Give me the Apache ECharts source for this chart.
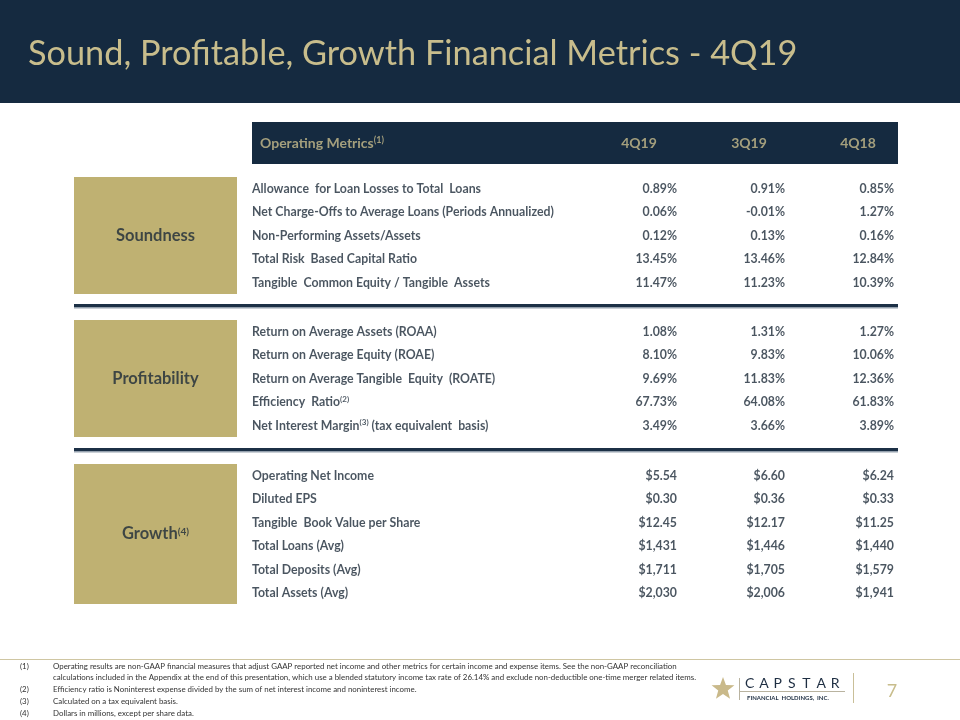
<!DOCTYPE html>
<html><head><meta charset="utf-8">
<script src="https://cdn.jsdelivr.net/npm/echarts@6/dist/echarts.min.js"></script>
<style>html,body{margin:0;padding:0;background:#fff}#c{width:960px;height:720px}</style>
</head><body><div id="c"></div>
<script>
// ---------- data ----------
const titleText = 'Sound, Profitable, Growth Financial Metrics - 4Q19';
const tableHeader = 'Operating Metrics{s|(1)}';
const periods = ['4Q19', '3Q19', '4Q18'];
const sections = ['Soundness', 'Profitability', 'Growth{s|(4)}'];

const soundnessLabels = [
  'Allowance  for Loan Losses to Total  Loans',
  'Net Charge-Offs to Average Loans (Periods Annualized)',
  'Non-Performing Assets/Assets',
  'Total Risk  Based Capital Ratio',
  'Tangible  Common Equity / Tangible  Assets'
];
const soundness4Q19 = [0.89, 0.06, 0.12, 13.45, 11.47];
const soundness3Q19 = [0.91, -0.01, 0.13, 13.46, 11.23];
const soundness4Q18 = [0.85, 1.27, 0.16, 12.84, 10.39];
const soundnessFormats = ['pct', 'pct', 'pct', 'pct', 'pct'];

const profitabilityLabels = [
  'Return on Average Assets (ROAA)',
  'Return on Average Equity (ROAE)',
  'Return on Average Tangible  Equity  (ROATE)',
  'Efficiency  Ratio{s|(2)}',
  'Net Interest Margin{s|(3)} (tax equivalent  basis)'
];
const profitability4Q19 = [1.08, 8.10, 9.69, 67.73, 3.49];
const profitability3Q19 = [1.31, 9.83, 11.83, 64.08, 3.66];
const profitability4Q18 = [1.27, 10.06, 12.36, 61.83, 3.89];
const profitabilityFormats = ['pct', 'pct', 'pct', 'pct', 'pct'];

const growthLabels = [
  'Operating Net Income',
  'Diluted EPS',
  'Tangible  Book Value per Share',
  'Total Loans (Avg)',
  'Total Deposits (Avg)',
  'Total Assets (Avg)'
];
const growth4Q19 = [5.54, 0.30, 12.45, 1431, 1711, 2030];
const growth3Q19 = [6.60, 0.36, 12.17, 1446, 1705, 2006];
const growth4Q18 = [6.24, 0.33, 11.25, 1440, 1579, 1941];
const growthFormats = ['usd2', 'usd2', 'usd2', 'usd0', 'usd0', 'usd0'];

const footnoteMarks = ['(1)', '', '(2)', '(3)', '(4)'];
const footnoteLines = [
  'Operating results are non-GAAP financial measures that adjust GAAP reported net income and other metrics for certain income and expense items. See the non-GAAP reconciliation',
  'calculations included in the Appendix at the end of this presentation, which use a blended statutory income tax rate of 26.14% and exclude non-deductible one-time merger related items.',
  'Efficiency ratio is Noninterest expense divided by the sum of net interest income and noninterest income.',
  'Calculated on a tax equivalent basis.',
  'Dollars in millions, except per share data.'
];
const pageNumber = '7';

// ---------- layout / style ----------
const FONT = 'Lato';
const NAVY = '#152a40', TAN = '#bfb172', TITLE_TAN = '#c8bd8c', TEXT = '#1d2a38';
const LAY = {
  labelX: 252, colRight: [677, 785, 894], headCenters: [639, 749, 858], headY: 143, metricsX: 260,
  firstRowY: [189, 332, 476], rowStep: 23.5,
  boxX: 74, boxW: 163, boxY: [[177, 294], [320, 437], [464, 604]],
  sepY: [304, 448], tableLeft: 74, tableRight: 898,
  headBar: [252, 122, 646, 42]
};

function fmt(v, kind) {
  if (kind === 'pct') return v.toFixed(2) + '%';
  if (kind === 'usd2') return '$' + v.toFixed(2);
  return '$' + v.toLocaleString('en-US');
}

const sectionLabels = [soundnessLabels, profitabilityLabels, growthLabels];
const sectionValues = [
  [soundness4Q19, soundness3Q19, soundness4Q18],
  [profitability4Q19, profitability3Q19, profitability4Q18],
  [growth4Q19, growth3Q19, growth4Q18]
];
const sectionFormats = [soundnessFormats, profitabilityFormats, growthFormats];

const labelData = [], valueData = [], sectionData = [], headData = [];
sectionLabels.forEach((labels, s) => {
  labels.forEach((lab, i) => {
    const y = LAY.firstRowY[s] + i * LAY.rowStep;
    labelData.push({ value: [LAY.labelX, y], name: lab });
    sectionValues[s].forEach((col, j) => {
      valueData.push({ value: [LAY.colRight[j], y], name: fmt(col[i], sectionFormats[s][i]) });
    });
  });
  const b = LAY.boxY[s];
  sectionData.push({ value: [LAY.boxX + LAY.boxW / 2, (b[0] + b[1]) / 2], name: sections[s] });
});
headData.push({ value: [LAY.metricsX, LAY.headY], name: tableHeader, label: { align: 'left' } });
periods.forEach((p, j) => headData.push({ value: [LAY.headCenters[j], LAY.headY], name: p, label: { align: 'center' } }));

const richSup = (size, color) => ({ s: { fontFamily: FONT, fontWeight: 'bold', fontSize: size, lineHeight: size, color: color, verticalAlign: 'top' } });

function textSeries(data, opts) {
  return {
    type: 'scatter', symbolSize: 0, silent: true, data: data, z: 5,
    label: Object.assign({
      show: true, position: 'inside', verticalAlign: 'middle',
      fontFamily: FONT, fontWeight: 'bold', fontSize: 12.3, color: TEXT, lineHeight: 15,
      formatter: p => p.name
    }, opts)
  };
}

// graphic decorations
const graphics = [
  { type: 'rect', shape: { x: 0, y: 0, width: 960, height: 103 }, style: { fill: NAVY } },
  { type: 'text', x: 28, y: 54, style: { text: titleText, font: '34.3px Lato', fill: TITLE_TAN, textVerticalAlign: 'middle' } },
  { type: 'rect', shape: { x: LAY.headBar[0], y: LAY.headBar[1], width: LAY.headBar[2], height: LAY.headBar[3] }, style: { fill: NAVY } }
];
LAY.boxY.forEach(b => graphics.push({ type: 'rect', shape: { x: LAY.boxX, y: b[0], width: LAY.boxW, height: b[1] - b[0] }, style: { fill: TAN } }));
LAY.sepY.forEach(y => {
  graphics.push({ type: 'rect', shape: { x: LAY.tableLeft, y: y, width: LAY.tableRight - LAY.tableLeft, height: 3 }, style: { fill: '#1c3046' } });
  graphics.push({ type: 'rect', shape: { x: LAY.tableLeft, y: y + 3, width: LAY.tableRight - LAY.tableLeft, height: 1.5 }, style: { fill: '#95a1ae' } });
});
// footer rule
graphics.push({ type: 'line', shape: { x1: 0, y1: 659.5, x2: 960, y2: 659.5 }, style: { stroke: '#cfc6a2', lineWidth: 1 } });
// footnotes
const fnY0 = 666, fnStep = 11.9;
footnoteLines.forEach((t, i) => {
  const y = fnY0 + i * fnStep;
  if (footnoteMarks[i]) graphics.push({ type: 'text', x: 20, y: y, style: { text: footnoteMarks[i], font: '7.9px Lato', fill: '#333', textVerticalAlign: 'middle' } });
  graphics.push({ type: 'text', x: 53, y: y, style: { text: t, font: '7.9px Lato', fill: '#333', textVerticalAlign: 'middle' } });
});
// logo
(function () {
  const cx = 723, cy = 689, R = 12, r = 5;
  const pts = [];
  for (let k = 0; k < 10; k++) {
    const a = -Math.PI / 2 + k * Math.PI / 5;
    const rr = k % 2 === 0 ? R : r;
    pts.push([cx + rr * Math.cos(a), cy + rr * Math.sin(a)]);
  }
  graphics.push({ type: 'polygon', shape: { points: pts }, style: { fill: '#c9b98a' } });
  graphics.push({ type: 'line', shape: { x1: 739.5, y1: 678, x2: 739.5, y2: 700 }, style: { stroke: '#b9b3a0', lineWidth: 1 } });
  graphics.push({ type: 'line', shape: { x1: 740, y1: 691.5, x2: 845, y2: 691.5 }, style: { stroke: '#b9b3a0', lineWidth: 1 } });
  const letters = 'CAPSTAR'.split('');
  letters.forEach((ch, k) => graphics.push({ type: 'text', x: 745 + k * 14.3, y: 683, style: { text: ch, font: '14px Lato', fill: '#1e2e42', textVerticalAlign: 'middle' } }));
  graphics.push({ type: 'text', x: 747, y: 698, style: { text: 'FINANCIAL  HOLDINGS,  INC.', font: 'bold 6px Lato', fill: '#1e2e42', textVerticalAlign: 'middle' } });
  graphics.push({ type: 'line', shape: { x1: 853.5, y1: 673, x2: 853.5, y2: 703 }, style: { stroke: '#c9bf98', lineWidth: 1 } });
  graphics.push({ type: 'text', x: 892, y: 691, style: { text: pageNumber, font: '18px Lato', fill: '#c8bd8c', textAlign: 'center', textVerticalAlign: 'middle' } });
})();

const option = {
  animation: false,
  backgroundColor: '#ffffff',
  grid: { left: 0, right: 0, top: 0, bottom: 0 },
  xAxis: { type: 'value', min: 0, max: 960, show: false },
  yAxis: { type: 'value', min: 0, max: 720, inverse: true, show: false },
  graphic: graphics,
  series: [
    textSeries(labelData, { align: 'left', rich: richSup(8, TEXT) }),
    textSeries(valueData, { align: 'right' }),
    textSeries(sectionData, { align: 'center', fontSize: 16.5, rich: richSup(10, TEXT) }),
    textSeries(headData, { fontSize: 14, color: TITLE_TAN, rich: richSup(9, TITLE_TAN) })
  ]
};
const chart = echarts.init(document.getElementById('c'));
chart.setOption(option);
</script>
</body></html>
